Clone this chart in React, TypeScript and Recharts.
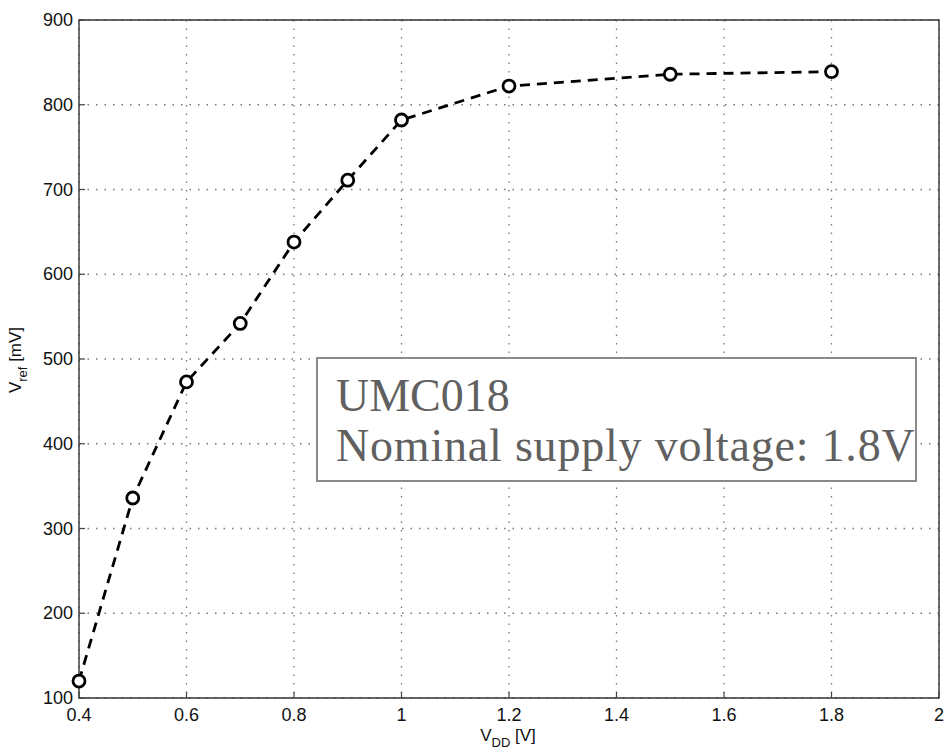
import { LineChart, Line, XAxis, YAxis, CartesianGrid, ReferenceArea } from 'recharts';

// supply voltage sweep [V] and measured reference voltage [mV]
const vdd = [0.4, 0.5, 0.6, 0.7, 0.8, 0.9, 1.0, 1.2, 1.5, 1.8];
const vref = [120, 336, 473, 542, 638, 711, 782, 822, 836, 839];

const xTicks = [0.4, 0.6, 0.8, 1, 1.2, 1.4, 1.6, 1.8, 2];
const yTicks = [100, 200, 300, 400, 500, 600, 700, 800, 900];

const data = vdd.map((v, i) => ({ vdd: v, vref: vref[i] }));

const TICK_FONT = '"Liberation Sans", Arial, sans-serif';
const TICK_LEN = 6;

const BottomTick = ({ x, y, payload }: any) => (
  <g>
    <line x1={x} x2={x} y1={y} y2={y - TICK_LEN} stroke="#444" strokeWidth={1.2} />
    <text x={x} y={y + 23} textAnchor="middle" fontSize={18} fontFamily={TICK_FONT} fill="#111">
      {payload.value}
    </text>
  </g>
);

const TopTick = ({ x, y }: any) => (
  <line x1={x} x2={x} y1={y} y2={y + TICK_LEN} stroke="#444" strokeWidth={1.2} />
);

const LeftTick = ({ x, y, payload }: any) => (
  <g>
    <line x1={x} x2={x + TICK_LEN} y1={y} y2={y} stroke="#444" strokeWidth={1.2} />
    <text x={x - 6} y={y + 6} textAnchor="end" fontSize={18} fontFamily={TICK_FONT} fill="#111">
      {payload.value}
    </text>
  </g>
);

const RightTick = ({ x, y }: any) => (
  <line x1={x} x2={x - TICK_LEN} y1={y} y2={y} stroke="#444" strokeWidth={1.2} />
);

const XTitle = () => (
  <text x={508} y={741} textAnchor="middle" fontSize={17} fontFamily={TICK_FONT} fill="#111">
    V<tspan fontSize={13} dy={6}>DD</tspan>
    <tspan dy={-6}> [V]</tspan>
  </text>
);

const YTitle = () => (
  <text
    x={0}
    y={0}
    transform="translate(21, 360) rotate(-90)"
    textAnchor="middle"
    fontSize={17}
    fontFamily={TICK_FONT}
    fill="#111"
  >
    V<tspan fontSize={13} dy={6}>ref</tspan>
    <tspan dy={-6}> [mV]</tspan>
  </text>
);

export default function App() {
  return (
    <div style={{ position: 'absolute', left: 0, top: 0, width: 945, height: 756, background: '#fff' }}>
      <LineChart
        width={945}
        height={756}
        data={data}
        margin={{ top: 20, right: 6, left: 0, bottom: 0 }}
      >
        <CartesianGrid stroke="#777" strokeDasharray="1.5 7" strokeWidth={1.3} />
        <XAxis
          dataKey="vdd"
          type="number"
          domain={[0.4, 2]}
          ticks={xTicks}
          height={58}
          axisLine={false}
          tickLine={false}
          tickSize={0}
          tickMargin={0}
          tick={<BottomTick />}
          label={<XTitle />}
        />
        <XAxis
          xAxisId="top"
          orientation="top"
          type="number"
          domain={[0.4, 2]}
          ticks={xTicks}
          height={0}
          axisLine={false}
          tickLine={false}
          tickSize={0}
          tickMargin={0}
          tick={<TopTick />}
        />
        <YAxis
          type="number"
          domain={[100, 900]}
          ticks={yTicks}
          width={79}
          axisLine={false}
          tickLine={false}
          tickSize={0}
          tickMargin={0}
          tick={<LeftTick />}
          label={<YTitle />}
        />
        <YAxis
          yAxisId="right"
          orientation="right"
          type="number"
          domain={[100, 900]}
          ticks={yTicks}
          width={0}
          axisLine={false}
          tickLine={false}
          tickSize={0}
          tickMargin={0}
          tick={<RightTick />}
        />
        <ReferenceArea x1={0.4} x2={2} y1={100} y2={900} fill="none" stroke="#333" strokeWidth={1.4} />
        <Line
          type="linear"
          dataKey="vref"
          stroke="#000"
          strokeWidth={2.8}
          strokeDasharray="10 7"
          dot={{ r: 6, stroke: '#000', strokeWidth: 2.8, fill: '#fff', strokeDasharray: '' }}
          isAnimationActive={false}
        />
      </LineChart>
      <svg
        width={945}
        height={756}
        style={{ position: 'absolute', left: 0, top: 0, pointerEvents: 'none' }}
      >
        <rect x={317} y={358} width={599} height={123} fill="#fff" stroke="#8a8a8a" strokeWidth={2} />
        <text x={336} y={411} fontSize={46} fontFamily='"Liberation Serif", serif' fill="#606060">
          UMC018
        </text>
        <text x={336} y={461} fontSize={46} fontFamily='"Liberation Serif", serif' fill="#606060" letterSpacing={0.8}>
          Nominal supply voltage: 1.8V
        </text>
      </svg>
    </div>
  );
}
